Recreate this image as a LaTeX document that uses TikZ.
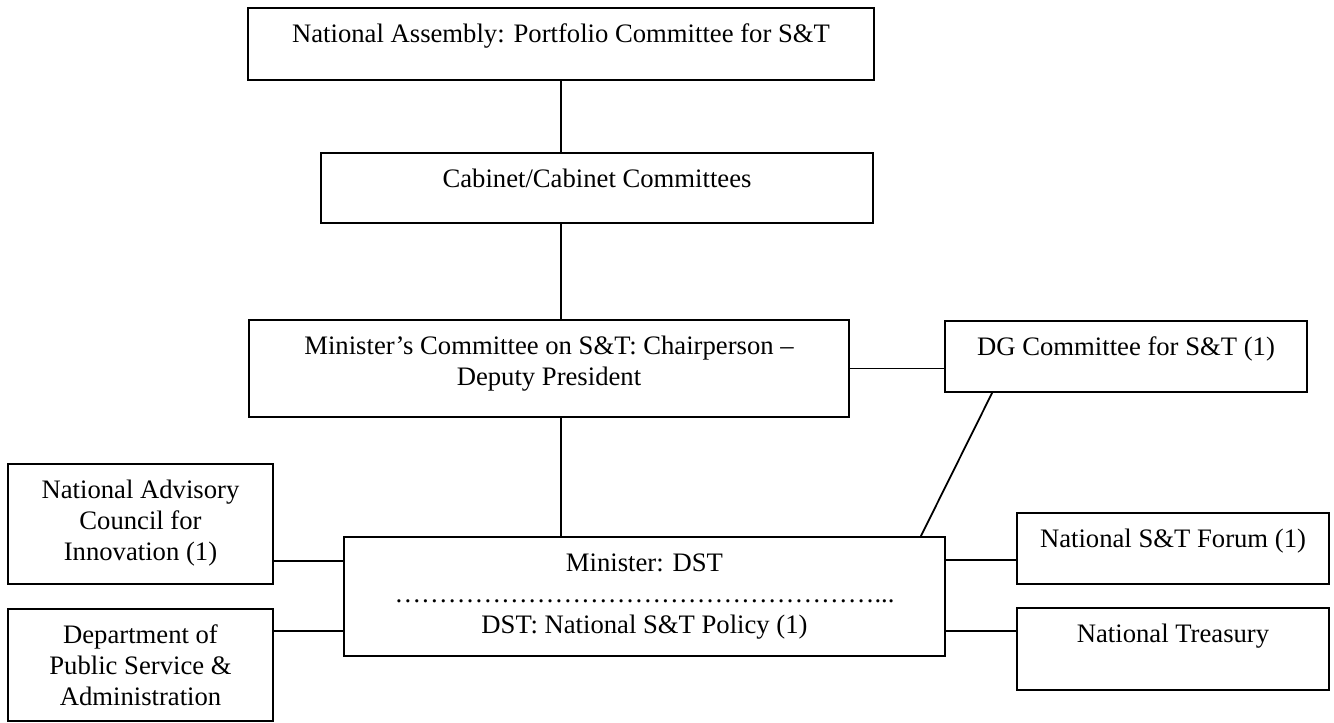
\documentclass[tikz,border=0pt]{standalone}
\usepackage{fontspec}
\setmainfont{Liberation Serif}
\usetikzlibrary{fit,calc}
\newcommand\fstrut{\rule{0pt}{15.75pt}}
\newcommand\dotrow{{………}{………}{………}{………}{………}{………}...}
\begin{document}
\begin{tikzpicture}[x=0.45pt,y=-0.45pt,
  box/.style={draw, line width=0.8pt, inner sep=0pt},
  lbl/.style={anchor=north, inner sep=0pt, align=center, font=\fontsize{12}{13.95}\selectfont},
  conn/.style={line width=0.8pt}]
\useasboundingbox (0,0) rectangle (1334,723);
% boxes
\node[box, fit={(248,8)(874,80)}] (assembly) {};
\node[box, fit={(321,153)(873,223)}] (cabinet) {};
\node[box, fit={(249,320)(849,417)}] (mincom) {};
\node[box, fit={(945,321)(1307,392)}] (dg) {};
\node[box, fit={(8,464)(273,584)}] (naci) {};
\node[box, fit={(344,537)(945,656)}] (dst) {};
\node[box, fit={(1017,513)(1329,584)}] (forum) {};
\node[box, fit={(8,609)(273,721)}] (dpsa) {};
\node[box, fit={(1017,608)(1329,690)}] (treasury) {};
% texts
\node[lbl] (assembly-t) at (assembly.north) {\fstrut National Assembly: Portfolio Committee for S\&T};
\node[lbl] (cabinet-t) at (cabinet.north) {\fstrut Cabinet/Cabinet Committees};
\node[lbl] (mincom-t) at (mincom.north) {\fstrut Minister’s Committee on S\&T: Chairperson –\\Deputy President};
\node[lbl] (dg-t) at (dg.north) {\fstrut DG Committee for S\&T (1)};
\node[lbl] (naci-t) at (naci.north) {\fstrut National Advisory\\Council for\\Innovation (1)};
\node[lbl] (dst-t) at (dst.north) {\fstrut Minister: DST\\\dotrow\\DST: National S\&T Policy (1)};
\node[lbl] (forum-t) at (forum.north) {\fstrut National S\&T Forum (1)};
\node[lbl] (dpsa-t) at (dpsa.north) {\fstrut Department of\\Public Service \&\\Administration};
\node[lbl] (treasury-t) at (treasury.north) {\fstrut National Treasury};
% connectors
\coordinate (cx) at (561,0);
\draw[conn] (assembly.south -| cx) -- (cabinet.north -| cx);
\draw[conn] (cabinet.south -| cx) -- (mincom.north -| cx);
\draw[conn] (mincom.south -| cx) -- (dst.north -| cx);
\draw[conn] (mincom.east) -- (mincom.east -| dg.west);
\draw[conn] ($(dg.south west)+(48,0)$) -- ($(dst.north east)+(-25,0)$);
\coordinate (la) at ($(naci.south east)+(0,-24)$);
\draw[conn] (la) -- (la -| dst.west);
\coordinate (lb) at ($(dpsa.north east)+(0,23)$);
\draw[conn] (lb) -- (lb -| dst.west);
\coordinate (ra) at ($(dst.north east)+(0,24)$);
\draw[conn] (ra) -- (ra -| forum.west);
\coordinate (rb) at ($(dst.north east)+(0,95)$);
\draw[conn] (rb) -- (rb -| treasury.west);
\end{tikzpicture}
\end{document}
